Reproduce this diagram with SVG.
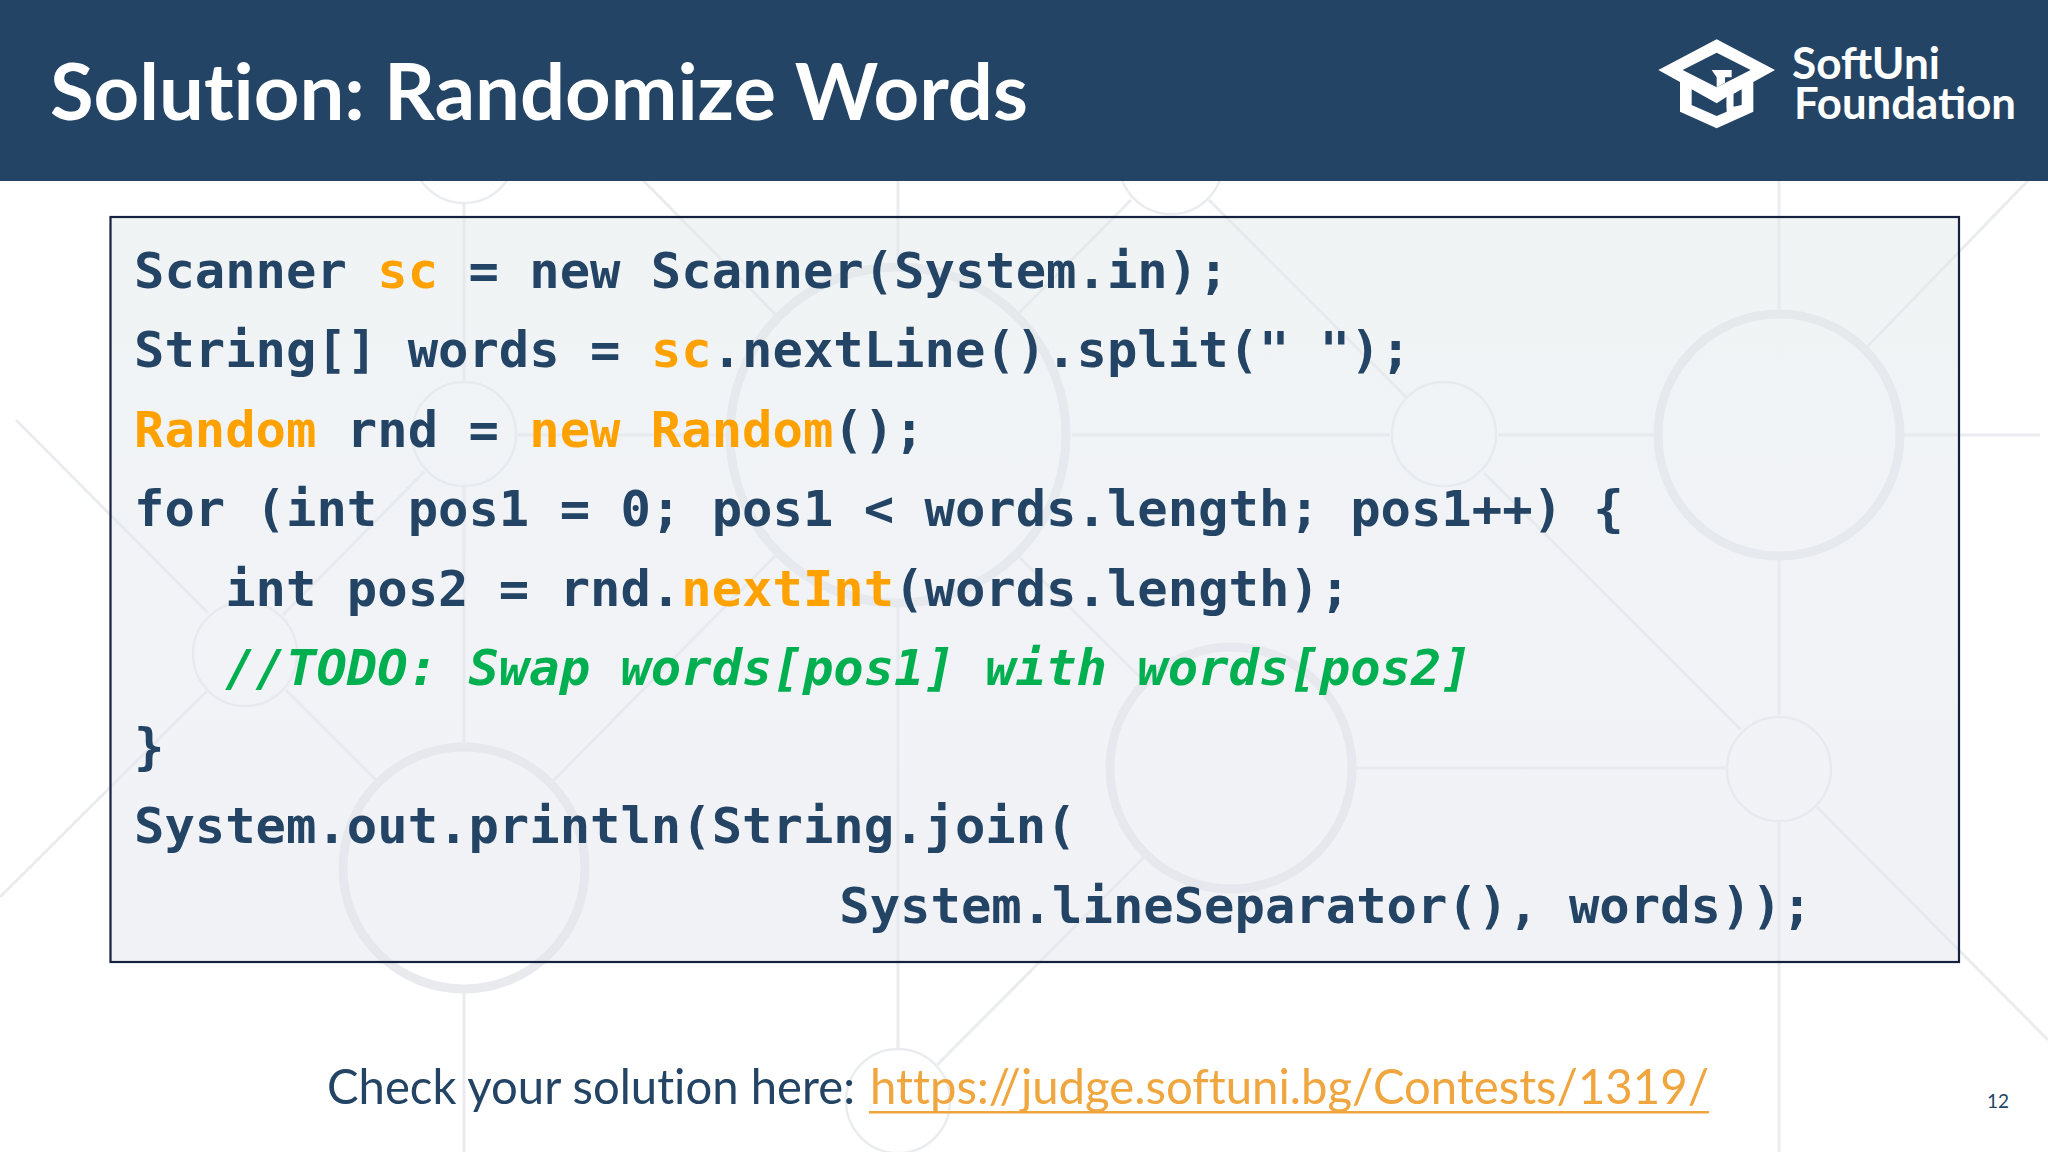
<svg xmlns="http://www.w3.org/2000/svg" width="2048" height="1152" viewBox="0 0 2048 1152">
<style>
.t{fill:none;stroke:#ebecef;stroke-width:2.5}
.k{fill:none;stroke:#e9eaed;stroke-width:9}
.l{fill:none;stroke:#ebecef;stroke-width:3}
.code{font-family:"DejaVu Sans Mono","Liberation Mono",monospace;font-weight:700;font-size:50.5px;fill:#234465;white-space:pre}
.o{fill:#ffa200}
.g{fill:#00b050;font-style:italic}
.sans{font-family:Lato,"Open Sans",sans-serif}
.nl{font-variant-ligatures:none}
</style>
<defs>
<linearGradient id="box" x1="0" y1="0" x2="0" y2="1">
<stop offset="0" stop-color="#e2e8ea"/><stop offset="0.35" stop-color="#e3e8ed"/><stop offset="1" stop-color="#e3e5ed"/>
</linearGradient>
</defs>
<rect width="2048" height="1152" fill="#ffffff"/>
<g id="background">
<circle class="t" cx="464" cy="151" r="52"/><circle class="t" cx="464" cy="434" r="52"/><circle class="t" cx="245" cy="654" r="52"/>
<circle class="t" cx="1171" cy="162" r="52"/><circle class="t" cx="1444" cy="434" r="52"/><circle class="t" cx="1779" cy="769" r="52"/><circle class="t" cx="898" cy="1101" r="52"/>
<circle class="k" cx="464" cy="868" r="121"/><circle class="k" cx="898" cy="435" r="168"/><circle class="k" cx="1779" cy="435" r="121"/><circle class="k" cx="1231" cy="768" r="121"/>
<path class="l" d="M464 203V382M464 487V743M464 993V1152M898 181V263M898 607V1048M1779 181V309M1779 560V715M1779 823V1152M518 435H724M1072 435H1390M1498 435H1654M1904 435H2040M1356 768H1725"/>
<path class="l" d="M16 420L208 613M424 472L283 615M208 690L0 897M286 690L379 783M551 783L778 553M778 317L625 162M1019 313L1131 200M1209 200L1406 397M1484 473L1741 730M1015 553L1143 680M1144 857L937 1065M1864 350L2048 160M1817 807L2048 1040"/>
</g>
<g id="header">
<rect width="2048" height="181" fill="#234465"/>
<text class="sans nl" x="50" y="120" font-size="78" font-weight="700" fill="#fff" textLength="978" lengthAdjust="spacingAndGlyphs">Solution: Randomize Words</text>
</g>
<g id="logo">
<g transform="translate(1600,0) scale(0.33333)" fill="#fff">
<path fill-rule="evenodd" d="M175 210L350 118L525 210L460 246V335L350 385L240 335V246ZM248 210L350 262L452 210L350 158ZM275 268V315L350 348L380 335V290L350 310ZM425 268L400 282V320L425 315Z"/>
<path d="M335 210H395V232H375V248L350 262V232H350Z"/>
<path d="M380 280L400 270V325L390 318L380 325Z"/>
</g>
<text class="sans" x="1792" y="79" font-size="43" font-weight="700" fill="#fff" textLength="148" lengthAdjust="spacingAndGlyphs">SoftUni</text>
<text class="sans" x="1794" y="119" font-size="43" font-weight="700" fill="#fff" textLength="222" lengthAdjust="spacingAndGlyphs">Foundation</text>
</g>
<g id="code">
<rect x="110.5" y="217" width="1848.5" height="745" fill="url(#box)" fill-opacity="0.5" stroke="#15213f" stroke-width="2.2"/>
<text class="code" x="134" y="288" xml:space="preserve">Scanner <tspan class="o">sc</tspan> = new Scanner(System.in);</text>
<text class="code" x="134" y="367" xml:space="preserve">String[] words = <tspan class="o">sc</tspan>.nextLine().split(" ");</text>
<text class="code" x="134" y="447" xml:space="preserve"><tspan class="o">Random</tspan> rnd = <tspan class="o">new Random</tspan>();</text>
<text class="code" x="134" y="526" xml:space="preserve">for (int pos1 = 0; pos1 &lt; words.length; pos1++) {</text>
<text class="code" x="134" y="606" xml:space="preserve">   int pos2 = rnd.<tspan class="o">nextInt</tspan>(words.length);</text>
<text class="code" x="134" y="685" xml:space="preserve">   <tspan class="g">//TODO: Swap words[pos1] with words[pos2]</tspan></text>
<text class="code" x="134" y="764" xml:space="preserve">}</text>
<text class="code" x="134" y="843" xml:space="preserve">System.out.println(String.join(</text>
<text class="code" x="140" y="923" xml:space="preserve">                       System.lineSeparator(), words));</text>
</g>
<g id="footer">
<text class="sans nl" x="327" y="1104" font-size="49" fill="#234465" textLength="528" lengthAdjust="spacingAndGlyphs">Check your solution here:</text>
<text class="sans nl" x="870" y="1104" font-size="49" fill="#f0a63f" textLength="839" lengthAdjust="spacingAndGlyphs">https://judge.softuni.bg/Contests/1319/</text>
<rect x="869" y="1111" width="840" height="2.5" fill="#f0a63f"/>
<text class="sans" x="1987" y="1108" font-size="19" fill="#234465">12</text>
</g>
</svg>
